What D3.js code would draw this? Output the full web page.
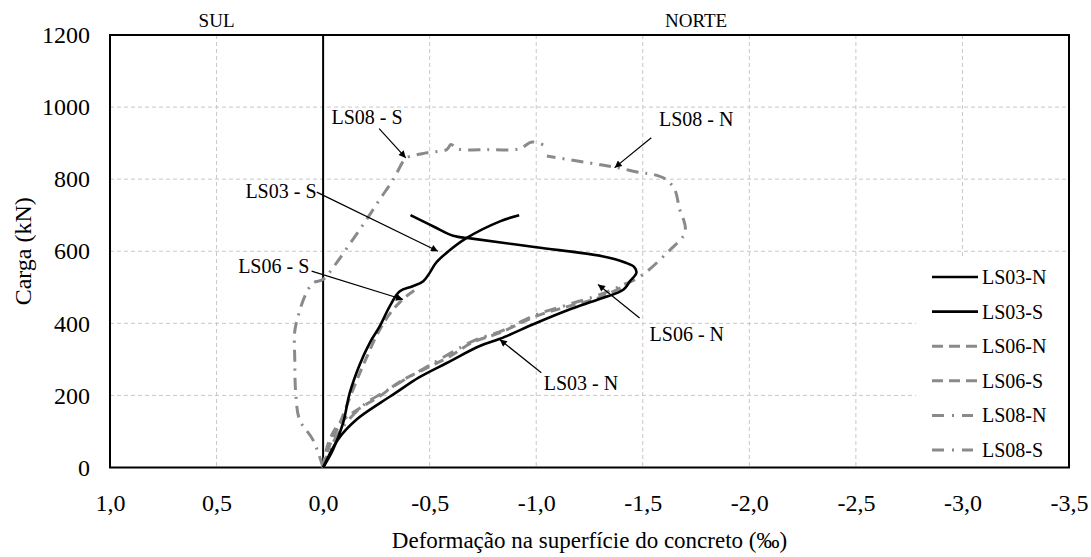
<!DOCTYPE html>
<html>
<head>
<meta charset="utf-8">
<script src="https://cdn.jsdelivr.net/npm/d3@7"></script>
<style>
html,body{margin:0;padding:0;background:#fff;}
svg{display:block;}
svg text{font-family:"Liberation Serif","Times New Roman",serif !important;}
</style>
</head>
<body>
<svg id="chart" width="1091" height="557"></svg>
<script>
// ---- data ----
const xTicks = [1.0, 0.5, 0.0, -0.5, -1.0, -1.5, -2.0, -2.5, -3.0, -3.5];
const yTicks = [0, 200, 400, 600, 800, 1000, 1200];
const seriesNames = ["LS03-N", "LS03-S", "LS06-N", "LS06-S", "LS08-N", "LS08-S"];

const LS03N = [[0,0],[-0.07,78],[-0.157,133],[-0.27,180],[-0.34,207],[-0.45,250],[-0.58,290],[-0.735,337],[-0.83,357],[-1.0,401],[-1.15,437],[-1.30,468],[-1.41,494],[-1.44,517],[-1.47,540],[-1.46,556],[-1.42,568],[-1.31,586],[-1.0,611],[-0.70,635],[-0.61,643],[-0.52,668],[-0.41,700]];
const LS03S = [[0,0],[-0.047,50],[-0.094,124],[-0.125,207],[-0.172,286],[-0.219,346],[-0.266,392],[-0.313,448],[-0.36,489],[-0.42,503],[-0.47,517],[-0.50,540],[-0.53,568],[-0.58,596],[-0.674,637],[-0.83,683],[-0.92,700]];
const LS06N = [[0,0],[-0.02,60],[-0.06,110],[-0.11,140],[-0.188,170],[-0.266,198],[-0.36,238],[-0.5,280],[-0.6,310],[-0.70,347],[-0.83,374],[-1.0,420],[-1.15,447],[-1.30,472],[-1.40,500],[-1.43,512]];
const LS06S = [[0,0],[-0.03,60],[-0.08,125],[-0.14,216],[-0.2,300],[-0.266,383],[-0.328,438],[-0.39,475],[-0.45,500]];
const LS08N = [[0,0],[-0.03,50],[-0.1,118],[-0.2,178],[-0.3,214],[-0.4,250],[-0.5,284],[-0.6,318],[-0.7,350],[-0.85,382],[-1.0,424],[-1.15,452],[-1.3,480],[-1.42,510],[-1.47,523],[-1.53,549],[-1.63,605],[-1.69,642],[-1.70,665],[-1.69,690],[-1.673,716],[-1.65,771],[-1.61,799],[-1.55,813],[-1.49,818],[-1.38,832],[-1.25,845],[-1.05,864]];
const LS08S = [[0,0],[0.047,76],[0.11,132],[0.128,202],[0.133,300],[0.133,378],[0.117,420],[0.086,475],[0.047,512],[0,522],[-0.063,568],[-0.14,633],[-0.204,688],[-0.266,744],[-0.329,799],[-0.376,850],[-0.39,859],[-0.485,873],[-0.58,882],[-0.6,896],[-0.63,884],[-0.77,882],[-0.92,884],[-0.98,903],[-1.05,891]];

// annotations: label, text position (data), anchor, arrow start (data), arrow tip (data)
const annoLabels = ["LS08 - S", "LS08 - N", "LS03 - S", "LS06 - S", "LS03 - N", "LS06 - N"];
const annoText = [[-0.039,954],[-1.576,947],[0.031,748],[0.065,541],[-1.035,214],[-1.532,350]];
const annoAnchor = ["start","start","end","end","start","start"];
const annoFrom = [[-0.263,940],[-1.54,915],[0.03,764],[0.054,545],[-1.024,263],[-1.485,415]];
const annoTo = [[-0.388,859],[-1.368,832],[-0.539,600],[-0.375,466],[-0.829,355],[-1.29,508]];

const sideLabels = ["SUL", "NORTE"];
const sidePos = [0.5, -1.75];

// ---- drawing ----
const FONT = "Liberation Serif";
const svg = d3.select("#chart");
const L = 110, R = 1069, T = 35, B = 467.5;
const x = d3.scaleLinear().domain([1.0, -3.5]).range([L, R]);
const y = d3.scaleLinear().domain([0, 1200]).range([B, T]);
const fmt = v => v.toFixed(1).replace(".", ",");

// grid
const grid = svg.append("g");
grid.selectAll("line.gx").data(xTicks.filter(v => v !== 1.0 && v !== -3.5 && v !== 0)).enter().append("line")
  .attr("x1", d => x(d)).attr("x2", d => x(d)).attr("y1", T).attr("y2", B)
  .attr("stroke", "#c8c8c8").attr("stroke-width", 1).attr("stroke-dasharray", "4,3");
grid.selectAll("line.gy").data(yTicks.filter(v => v !== 0 && v !== 1200)).enter().append("line")
  .attr("x1", L).attr("x2", R).attr("y1", d => y(d)).attr("y2", d => y(d))
  .attr("stroke", "#c8c8c8").attr("stroke-width", 1).attr("stroke-dasharray", "4,3");

// legend background (covers grid)
svg.append("rect").attr("x", 916).attr("y", 258).attr("width", R - 916).attr("height", B - 258).attr("fill", "#fff");

// zero line
svg.append("line").attr("x1", x(0)).attr("x2", x(0)).attr("y1", T).attr("y2", B)
  .attr("stroke", "#000").attr("stroke-width", 2);

// plot border
svg.append("rect").attr("x", L).attr("y", T).attr("width", R - L).attr("height", B - T)
  .attr("fill", "none").attr("stroke", "#000").attr("stroke-width", 2);

// axes labels
const yAxis = d3.axisLeft(y).tickValues(yTicks).tickSize(0).tickPadding(20).tickFormat(d3.format("d"));
const gy = svg.append("g").attr("transform", `translate(${L},0)`).call(yAxis)
  .attr("font-family", FONT).attr("font-size", 24);
gy.select(".domain").remove();
gy.selectAll("text").attr("font-size", 24).attr("font-family", FONT).attr("fill", "#000");

const xAxis = d3.axisBottom(x).tickValues(xTicks).tickSize(0).tickPadding(26).tickFormat(fmt);
const gx = svg.append("g").attr("transform", `translate(0,${B})`).call(xAxis)
  .attr("font-family", FONT).attr("font-size", 24);
gx.select(".domain").remove();
gx.selectAll("text").attr("font-size", 24).attr("font-family", FONT).attr("fill", "#000");

svg.append("text").attr("x", (L + R) / 2).attr("y", 548).attr("text-anchor", "middle")
  .attr("font-family", FONT).attr("font-size", 23).text("Deformação na superfície do concreto (‰)");
svg.append("text").attr("transform", `translate(31,${(T + B) / 2}) rotate(-90)`).attr("text-anchor", "middle")
  .attr("font-family", FONT).attr("font-size", 24).text("Carga (kN)");

svg.selectAll("text.side").data(sideLabels).enter().append("text")
  .attr("x", (d, i) => x(sidePos[i])).attr("y", 27).attr("text-anchor", "middle")
  .attr("font-family", FONT).attr("font-size", 19).text(d => d);

// series
const styles = {
  "LS03-N": {data: LS03N, color: "#000", width: 2.6, dash: null, ldash: null},
  "LS03-S": {data: LS03S, color: "#000", width: 2.6, dash: null, ldash: null},
  "LS06-N": {data: LS06N, color: "#8a8a8a", width: 3, dash: "10,6", ldash: "11,6"},
  "LS06-S": {data: LS06S, color: "#8a8a8a", width: 3, dash: "10,6", ldash: "11,6"},
  "LS08-N": {data: LS08N, color: "#8a8a8a", width: 3, dash: "12,7,2,7", ldash: "12,8,2,8"},
  "LS08-S": {data: LS08S, color: "#8a8a8a", width: 3, dash: "12,7,2,7", ldash: "12,8,2,8"}
};
const line = d3.line().x(d => x(d[0])).y(d => y(d[1])).curve(d3.curveCatmullRom.alpha(0.5));
const drawOrder = ["LS08-S", "LS08-N", "LS06-S", "LS06-N", "LS03-S", "LS03-N"];
drawOrder.forEach(n => {
  const s = styles[n];
  svg.append("path").datum(s.data).attr("d", line).attr("fill", "none")
    .attr("stroke", s.color).attr("stroke-width", s.width)
    .attr("stroke-dasharray", s.dash).attr("stroke-linejoin", "round");
});

// legend
const lg = svg.append("g");
seriesNames.forEach((n, i) => {
  const s = styles[n];
  const ly = 277 + i * 34.6;
  lg.append("line").attr("x1", 932).attr("x2", n.startsWith("LS08") ? 973 : 978).attr("y1", ly).attr("y2", ly)
    .attr("stroke", s.color).attr("stroke-width", s.width)
    .attr("stroke-dasharray", s.ldash);
  lg.append("text").attr("x", 982).attr("y", ly + 7).attr("font-family", FONT).attr("font-size", 20).text(n);
});

// annotations
const defs = svg.append("defs");
defs.append("marker").attr("id", "ah").attr("viewBox", "0 0 10 10").attr("refX", 10).attr("refY", 5)
  .attr("markerWidth", 9).attr("markerHeight", 7).attr("markerUnits", "userSpaceOnUse").attr("orient", "auto")
  .append("path").attr("d", "M0,0 L10,5 L0,10 z").attr("fill", "#000");
annoLabels.forEach((t, i) => {
  svg.append("text").attr("x", x(annoText[i][0])).attr("y", y(annoText[i][1]))
    .attr("text-anchor", annoAnchor[i]).attr("font-family", FONT).attr("font-size", 20).text(t);
  svg.append("line").attr("x1", x(annoFrom[i][0])).attr("y1", y(annoFrom[i][1]))
    .attr("x2", x(annoTo[i][0])).attr("y2", y(annoTo[i][1]))
    .attr("stroke", "#000").attr("stroke-width", 1.2).attr("marker-end", "url(#ah)");
});
</script>
</body>
</html>
